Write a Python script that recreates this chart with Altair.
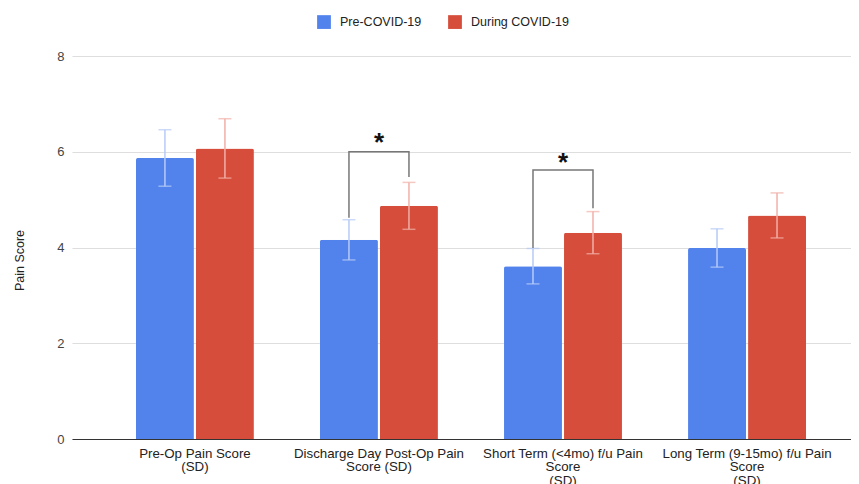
import altair as alt
import pandas as pd

categories = [
    "Pre-Op Pain Score|(SD)",
    "Discharge Day Post-Op Pain|Score (SD)",
    "Short Term (<4mo) f/u Pain|Score|(SD)",
    "Long Term (9-15mo) f/u Pain|Score|(SD)",
]
series_names = ["Pre-COVID-19", "During COVID-19"]
pre_means = [5.87, 4.16, 3.61, 3.99]
pre_sd = [0.59, 0.42, 0.37, 0.40]
during_means = [6.07, 4.87, 4.31, 4.67]
during_sd = [0.62, 0.49, 0.44, 0.47]

# significance brackets
bracket_categories = [categories[1], categories[2]]
bracket_top = [6.00, 5.62]
bracket_left_bottom = [4.62, 3.99]
bracket_right_bottom = [5.47, 4.82]
star_y = [6.26, 5.84]

bar_colors = ["#5283EC", "#D64D3B"]
err_colors = ["#B7CAF6", "#F1B0A8"]

rows = []
for i, c in enumerate(categories):
    for s, m, sd in ((series_names[0], pre_means[i], pre_sd[i]),
                     (series_names[1], during_means[i], during_sd[i])):
        rows.append({"cat": c, "series": s, "mean": m, "lo": m - sd, "hi": m + sd})
df = pd.DataFrame(rows)

brows = []
for j, c in enumerate(bracket_categories):
    brows += [
        {"cat": c, "series": series_names[0], "y": bracket_left_bottom[j], "o": 0, "b": j},
        {"cat": c, "series": series_names[0], "y": bracket_top[j], "o": 1, "b": j},
        {"cat": c, "series": series_names[1], "y": bracket_top[j], "o": 2, "b": j},
        {"cat": c, "series": series_names[1], "y": bracket_right_bottom[j], "o": 3, "b": j},
    ]
bdf = pd.DataFrame(brows)
sdf = pd.DataFrame({"cat": bracket_categories, "y": star_y, "t": ["*", "*"]})

FONT = "Liberation Sans"

xscale = alt.Scale(domain=categories, paddingInner=0.359, paddingOuter=0.296, align=0.587)
xoff_scale = alt.Scale(domain=series_names, paddingInner=0.034, paddingOuter=0)
yscale = alt.Scale(domain=[0, 8], nice=False)

x_enc = alt.X("cat:N", scale=xscale, sort=categories,
              axis=alt.Axis(title=None, labelExpr="split(datum.label, '|')", labelAngle=0,
                            ticks=False, labelPadding=7, labelFontSize=13.3,
                            labelColor="#222", labelFont=FONT, labelLineHeight=13.5,
                            domainColor="#333", domainWidth=1.2, labelLimit=300))
xo_enc = alt.XOffset("series:N", scale=xoff_scale, sort=series_names)

base = alt.Chart(df)

bars = base.mark_bar(cornerRadiusTopLeft=2, cornerRadiusTopRight=2).encode(
    x=x_enc,
    xOffset=xo_enc,
    y=alt.Y("mean:Q", scale=yscale,
            axis=alt.Axis(title="Pain Score", values=[0, 2, 4, 6, 8], ticks=False, domain=False,
                          gridColor="#dedede", gridWidth=1.2, labelPadding=8,
                          labelFontSize=13, labelColor="#444", labelFont=FONT,
                          titleFont=FONT, titleFontSize=12.5, titleFontWeight="normal",
                          titleColor="#222", titleAngle=-90, titleX=-53, titleY=204,
                          titleAlign="center", titleBaseline="middle")),
    color=alt.Color("series:N", sort=series_names,
                    scale=alt.Scale(domain=series_names, range=bar_colors),
                    legend=alt.Legend(title=None, orient="none", direction="horizontal",
                                      legendX=245, legendY=-41, symbolType="square",
                                      symbolSize=190, symbolStrokeWidth=0, symbolOpacity=1,
                                      labelFont=FONT, labelFontSize=12.5, labelColor="#222",
                                      labelOffset=9, columnPadding=26)),
)

err_color = alt.Color("series:N", sort=series_names,
                      scale=alt.Scale(domain=series_names, range=err_colors), legend=None)

err_rule = base.mark_rule(strokeWidth=1.5).encode(
    x=alt.X("cat:N", scale=xscale, sort=categories),
    xOffset=xo_enc,
    y=alt.Y("lo:Q", scale=yscale),
    y2="hi:Q",
    color=err_color,
)
cap_lo = base.mark_tick(size=13, thickness=1.5, orient="horizontal").encode(
    x=alt.X("cat:N", scale=xscale, sort=categories),
    xOffset=xo_enc,
    y=alt.Y("lo:Q", scale=yscale),
    color=err_color,
)
cap_hi = base.mark_tick(size=13, thickness=1.5, orient="horizontal").encode(
    x=alt.X("cat:N", scale=xscale, sort=categories),
    xOffset=xo_enc,
    y=alt.Y("hi:Q", scale=yscale),
    color=err_color,
)

brackets = alt.Chart(bdf).mark_line(color="#777", strokeWidth=1.5).encode(
    x=alt.X("cat:N", scale=xscale, sort=categories),
    xOffset=xo_enc,
    y=alt.Y("y:Q", scale=yscale),
    detail="b:N",
    order="o:Q",
)

stars = alt.Chart(sdf).mark_text(fontSize=26, fontWeight="bold", color="#111",
                                 font=FONT, baseline="middle", dy=4).encode(
    x=alt.X("cat:N", scale=xscale, sort=categories),
    y=alt.Y("y:Q", scale=yscale),
    text="t:N",
)

chart = alt.layer(bars, err_rule, cap_lo, cap_hi, brackets, stars).resolve_scale(
    color="independent"
).properties(
    width=779, height=383, autosize="none",
    padding={"left": 64, "top": 48, "right": 0, "bottom": 45},
).configure_view(stroke=None)

chart.save("out.html", embed_options={"renderer": "svg", "actions": False})
